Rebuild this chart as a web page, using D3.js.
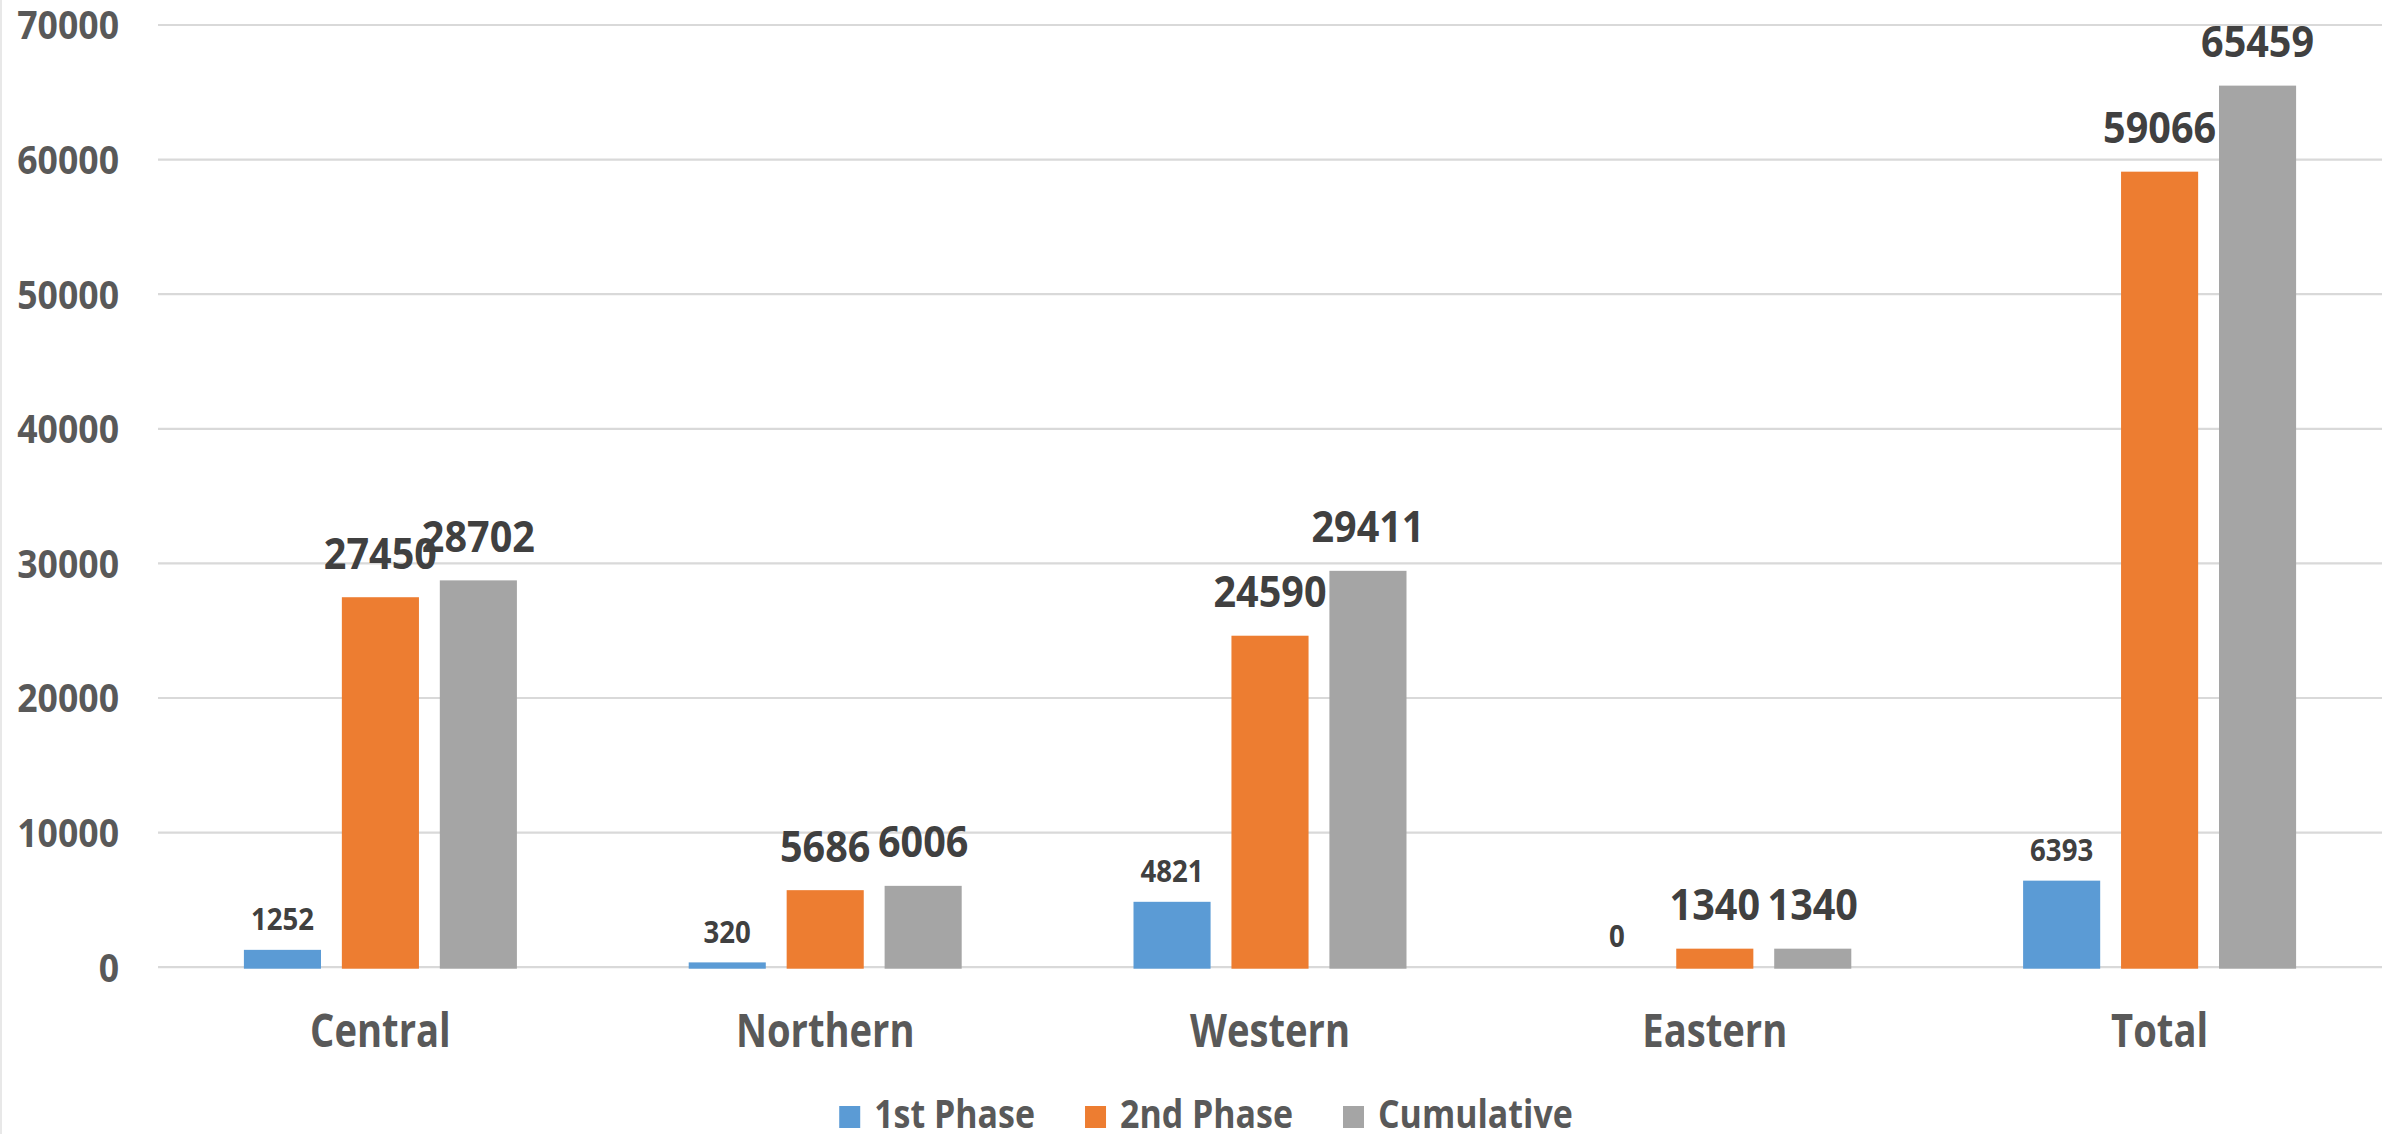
<!DOCTYPE html>
<html>
<head>
<meta charset="utf-8">
<script src="https://cdn.jsdelivr.net/npm/d3@7"></script>
<style>
    html, body { margin: 0; padding: 0; background: #fff; }
    svg { display: block; }
    text { font-family: "Open Sans", "Noto Sans", sans-serif; font-weight: bold; }
</style>
</head>
<body>
<script>
(function () {
    'use strict';

    var categories = ['Central', 'Northern', 'Western', 'Eastern', 'Total'];
    var seriesNames = ['1st Phase', '2nd Phase', 'Cumulative'];
    var firstPhase = [1252, 320, 4821, 0, 6393];
    var secondPhase = [27450, 5686, 24590, 1340, 59066];
    var cumulative = [28702, 6006, 29411, 1340, 65459];
    var yTicks = [0, 10000, 20000, 30000, 40000, 50000, 60000, 70000];

    var colors = ['#5b9bd5', '#ed7d31', '#a5a5a5'];
    var labelSizes = [30, 43, 43];
    var width = 2408;
    var height = 1134;
    var left = 158, right = 2382, top = 24.5, bottom = 966.7;
    var groupWidth = 273;

    var seriesValues = [firstPhase, secondPhase, cumulative];

    // narrow the text horizontally around its anchor point (reference font is condensed)
    function squeeze(sel, sx) {
        sel.attr('transform', function () {
            var t = d3.select(this);
            var ax = +t.attr('x') || 0;
            var ay = +t.attr('y') || 0;
            return 'translate(' + ax + ',' + ay + ') scale(' + sx + ',1) translate(' + (-ax) + ',' + (-ay) + ')';
        });
    }

    var svg = d3.select('body')
        .append('svg')
        .attr('width', width)
        .attr('height', height)
        ;

    svg.append('line')
        .attr('x1', 1).attr('x2', 1)
        .attr('y1', 0).attr('y2', height)
        .attr('stroke', '#e8e8e8')
        .attr('stroke-width', 2)
        ;

    var y = d3.scaleLinear()
        .domain([0, 70000])
        .range([bottom, top])
        ;

    var x0 = d3.scaleBand()
        .domain(categories)
        .range([left, right])
        .padding(0)
        ;

    var bw = x0.bandwidth();
    var x1 = d3.scaleBand()
        .domain(seriesNames)
        .range([(bw - groupWidth) / 2, (bw + groupWidth) / 2])
        .paddingInner(0.213)
        .paddingOuter(0)
        ;

    // gridlines + y labels
    var yAxis = svg.append('g')
        .attr('transform', 'translate(' + left + ',0)')
        .call(d3.axisLeft(y)
            .tickValues(yTicks)
            .tickSize(-(right - left))
            .tickPadding(39)
            .tickFormat(d3.format('d')))
        ;

    yAxis.select('.domain').remove();
    yAxis.selectAll('.tick line')
        .attr('stroke', '#d9d9d9')
        .attr('stroke-width', 2.2)
        ;
    yAxis.selectAll('.tick text')
        .attr('fill', '#595959')
        .style('font-size', '40px')
        .attr('dy', '0.36em')
        .call(squeeze, 0.89)
        ;

    // category labels
    var xAxis = svg.append('g')
        .attr('transform', 'translate(0,' + bottom + ')')
        .call(d3.axisBottom(x0).tickSize(0).tickPadding(0))
        ;

    xAxis.select('.domain').remove();
    xAxis.selectAll('.tick text')
        .attr('fill', '#595959')
        .attr('y', 80)
        .attr('dy', 0)
        .style('font-size', '46px')
        .call(squeeze, 0.83)
        ;

    var rows = categories.map(function (c, i) {
        return seriesNames.map(function (s, j) {
            return { cat: c, name: s, idx: j, value: seriesValues[j][i] };
        });
    });

    var groups = svg.selectAll('g.group')
        .data(rows)
        .enter()
        .append('g')
        .attr('class', 'group')
        .attr('transform', function (d, i) { return 'translate(' + x0(categories[i]) + ',0)'; })
        ;

    groups.selectAll('rect')
        .data(function (d) { return d; })
        .enter()
        .append('rect')
        .attr('x', function (d) { return x1(d.name); })
        .attr('width', x1.bandwidth())
        .attr('y', function (d) { return y(d.value); })
        .attr('height', function (d) { return d.value > 0 ? y(0) - y(d.value) + 2 : 0; })
        .attr('fill', function (d) { return colors[d.idx]; })
        ;

    groups.selectAll('text.label')
        .data(function (d) { return d; })
        .enter()
        .append('text')
        .attr('class', 'label')
        .text(function (d) { return d.value; })
        .attr('text-anchor', 'middle')
        .attr('x', function (d) { return x1(d.name) + x1.bandwidth() / 2; })
        .attr('y', function (d) { return y(d.value) - labelSizes[d.idx] * 0.66; })
        .attr('fill', '#404040')
        .style('font-size', function (d) { return labelSizes[d.idx] + 'px'; })
        .call(squeeze, 0.92)
        ;

    // legend
    var legendScale = 0.87;
    var legend = svg.append('g');
    var items = legend.selectAll('g')
        .data(seriesNames)
        .enter()
        .append('g')
        ;

    items.append('rect')
        .attr('width', 21)
        .attr('height', 22)
        .attr('y', 1106)
        .attr('fill', function (d, i) { return colors[i]; })
        ;

    items.append('text')
        .text(function (d) { return d; })
        .attr('x', 35)
        .attr('y', 1128)
        .attr('fill', '#595959')
        .style('font-size', '39px')
        .call(squeeze, legendScale)
        ;

    var xPos = 0;
    items.each(function () {
        var w = 35 + legendScale * d3.select(this).select('text').node().getComputedTextLength();
        d3.select(this).attr('transform', 'translate(' + xPos + ',0)');
        xPos += w + 50;
    });
    var total = xPos - 50;
    legend.attr('transform', 'translate(' + (1206 - total / 2) + ',0)');

})();
</script>
</body>
</html>
